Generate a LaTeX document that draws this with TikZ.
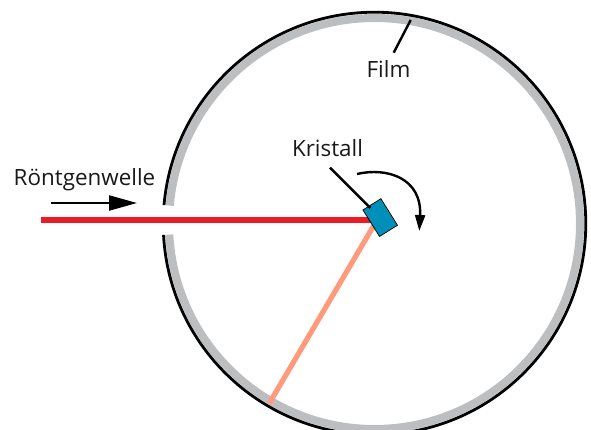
\documentclass[tikz,border=0pt]{standalone}
\usepackage{fontspec}
\setmainfont{Open Sans}
\usetikzlibrary{arrows.meta}
\definecolor{filmgray}{HTML}{BDBEC0}
\definecolor{rayred}{HTML}{ED1C24}
\definecolor{rayorange}{HTML}{FF9A7C}
\definecolor{crystalblue}{HTML}{008FB8}
\tikzset{
  x=1pt,y=1pt,
  lbl/.style={inner sep=0pt,font=\fontsize{22.4}{24}\selectfont,text=black!90},
  film/.style={line width=8pt,draw=filmgray},
  rim/.style={line width=2.8pt,draw=black},
  pointer/.style={line width=2.4pt,draw=black},
  ray/.style={line width=5.2pt},
  crystalbox/.style={draw=black,line width=0.7pt,fill=crystalblue,minimum width=21.2pt,minimum height=31.3pt,inner sep=0pt,rotate=32},
}
\begin{document}
\begin{tikzpicture}
\useasboundingbox (0,0) rectangle (591,430);
\clip (0,0) rectangle (591,430);
% film (gray) and rim (black), with the slit on the left
\draw[film] (374.5,206.5) ++(183.1:205.5) arc[start angle=183.1,end angle=535,radius=205.5];
\draw[rim] (374.5,206.5) ++(183.1:211.3) arc[start angle=183.1,end angle=535,radius=211.3];
\coordinate (rayin) at (41,210);
\coordinate (impact) at (377,210);
\coordinate (spot) at (269.3,26.7);
\draw[ray,draw=rayorange] (impact) -- (spot);
\draw[ray,draw=rayred] (rayin) -- (impact);
\node[crystalbox] (crystal) at (380.2,212.4) {};
\coordinate (kfrom) at (330,262.3);
\coordinate (kto) at (370.4,222);
\draw[pointer] (kfrom) -- (kto);
\node[lbl] (kristall) at (327.5,282) {Kristall};
\node[lbl] (film) at (388.5,361) {Film};
\node[lbl] (roentgen) at (84.5,250) {Röntgenwelle};
\coordinate (ffrom) at (393.7,377.3);
\coordinate (fto) at (410.7,410);
\draw[pointer] (ffrom) -- (fto);
\coordinate (wfrom) at (51,227);
\coordinate (wto) at (137,227);
\draw[pointer,-{Triangle[length=28pt,width=15pt]}] (wfrom) -- (wto);
\coordinate (rfrom) at (357,256);
\coordinate (rto) at (419.3,199);
\draw[pointer,-{Triangle[length=16pt,width=10pt]}] (rfrom) .. controls (387,263) and (422,252) .. (rto);
\end{tikzpicture}
\end{document}
